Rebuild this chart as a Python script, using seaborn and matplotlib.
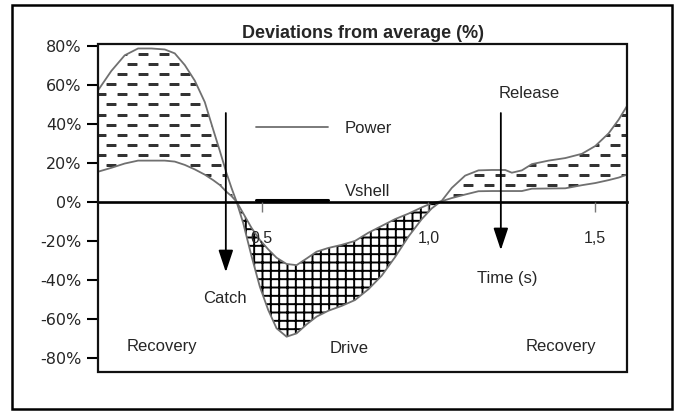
"""
Deviations from average (%) - Power and Vshell over one rowing stroke
"""
import numpy as np
import matplotlib
matplotlib.use('Agg')
import matplotlib.pyplot as plt
from matplotlib.lines import Line2D
from matplotlib.patches import Rectangle
from matplotlib.path import Path
import seaborn as sns

# Zeitachse (s) und Abweichungen (%)
t = [0.01, 0.05, 0.09, 0.13, 0.17, 0.21, 0.24, 0.27, 0.30, 0.33, 0.355, 0.375,
     0.395, 0.41, 0.425, 0.445, 0.47, 0.495, 0.52, 0.545, 0.575, 0.605, 0.635,
     0.665, 0.70, 0.74, 0.78, 0.82, 0.86, 0.90, 0.94, 0.98, 1.01, 1.04, 1.07,
     1.11, 1.15, 1.19, 1.23, 1.25, 1.28, 1.31, 1.36, 1.41, 1.46, 1.50, 1.54,
     1.57, 1.595]
power = [57, 67, 75, 78.5, 78.5, 78, 76, 70, 62, 51, 37, 26,
         14.6, 7, 0, -11, -28, -43.7, -55.6, -65, -69.3, -67.6, -63,
         -59, -56, -53.5, -50.5, -45, -38, -28.5, -18, -9, -3.5, 0.4, 7,
         13.3, 16, 16.2, 16.2, 14.8, 16, 19.2, 21, 22.3, 24.5, 28.5, 35,
         42, 49]
vshell = [15.3, 17.3, 19.5, 21, 21, 21, 20.5, 18.8, 16.5, 13.8, 11, 8.5,
          5, 2.8, 0, -6, -13.5, -19.7, -24.5, -28.8, -32, -32.6, -29.2,
          -25.7, -23.8, -22.2, -20.2, -16, -12.5, -9, -6.2, -3, -0.8, 0.2, 1.8,
          3.6, 5.3, 5.4, 5.4, 5.4, 5.4, 6.6, 6.7, 6.8, 8.4, 9.5, 11,
          12.3, 13.8]

x_ticks = [0.5, 1.0, 1.5]
x_tick_labels = ['0,5', '1,0', '1,5']
y_ticks = [-80, -60, -40, -20, 0, 20, 40, 60, 80]
y_tick_labels = [f'{v}%' for v in y_ticks]

# Beschriftungen im Diagramm: (Text, x, y)
annotations = [
    ('Release', 1.303, 55.6),
    ('Catch', 0.390, -49.5),
    ('Time (s)', 1.237, -39.2),
    ('Recovery', 0.202, -74.1),
    ('Drive', 0.761, -75.1),
    ('Recovery', 1.398, -74.1),
]
# Pfeile: (x, von, bis)
arrows = [(0.393, 45.4, -36.2), (1.217, 45.4, -24.9)]

sns.set_style('white')
plt.rcParams['font.family'] = ['Liberation Sans', 'DejaVu Sans']
plt.rcParams['hatch.linewidth'] = 1.4

fig = plt.figure(figsize=(6.82, 4.13), dpi=100)
ax = fig.add_axes([98 / 682, 1 - 372 / 413, 529 / 682, 328 / 413])
ax.set_axisbelow(False)

t_arr = np.array(t)
p_arr = np.array(power)
v_arr = np.array(vshell)

# Bereich Power > Vshell: gestrichelte Schraffur
upper = ax.fill_between(t_arr, p_arr, v_arr, where=p_arr >= v_arr,
                        interpolate=True, facecolor='white', linewidth=0, zorder=1)
# Bereich Power < Vshell: Gitter
ax.fill_between(t_arr, p_arr, v_arr, where=p_arr < v_arr, interpolate=True,
                facecolor='white', edgecolor='black', hatch='++', linewidth=0, zorder=1)

# versetzte Striche als Textur, auf die Fläche zugeschnitten
xs, ys = [], []
for k, yy in enumerate(np.arange(1 - 10 / 328, 0, -10.1 / 328)):
    off = 0 if k % 2 == 0 else 10.5 / 529
    for xx in np.arange(off + 0.005, 1.0, 21 / 529):
        xs.append(xx)
        ys.append(yy)
dashes = ax.scatter(xs, ys, marker='_', s=52, linewidths=1.9, color='#333333',
                    transform=ax.transAxes, zorder=1.5)
clip = Path.make_compound_path(*upper.get_paths())
dashes.set_clip_path(clip, ax.transData)

sns.lineplot(x=t, y=power, color='#707070', linewidth=1.3, ax=ax, zorder=2)
sns.lineplot(x=t, y=vshell, color='#707070', linewidth=1.3, ax=ax, zorder=2)

for x0, y0, y1 in arrows:
    ax.annotate('', xy=(x0, y1), xytext=(x0, y0),
                arrowprops=dict(arrowstyle='-|>,head_length=0.9,head_width=0.3',
                                color='black', lw=1.3, mutation_scale=15,
                                shrinkA=0, shrinkB=0), zorder=3)

for txt, x0, y0 in annotations:
    ax.text(x0, y0, txt, ha='center', va='center', fontsize=12, zorder=4)

# Legende (Vshell-Text etwas über seiner Linie, daher die Leerzeile)
handles = [Line2D([], [], color='#707070', lw=1.3),
           Line2D([], [], color='black', lw=2.2)]
ax.legend(handles, ['Power', 'Vshell\n'], loc='upper left',
          bbox_to_anchor=(0.299, 0.766), frameon=False, fontsize=12,
          handlelength=4.3, handletextpad=1.0, labelspacing=2.9,
          borderpad=0, borderaxespad=0)

ax.set_xlim(0.01, 1.595)
ax.set_ylim(-87.4, 80.8)
ax.set_xticks(x_ticks)
ax.set_xticklabels(x_tick_labels, family='DejaVu Sans')
ax.set_yticks(y_ticks)
ax.set_yticklabels(y_tick_labels, family='DejaVu Sans')
ax.tick_params(axis='x', direction='out', length=7, width=1, color='#777777',
               pad=14, labelsize=11.5, bottom=True)
ax.tick_params(axis='y', direction='out', length=8, width=1.5, color='black',
               pad=4, labelsize=11.5, left=True)

for side in ['top', 'right', 'left']:
    ax.spines[side].set_visible(False)
ax.spines['bottom'].set_position(('data', 0))
ax.spines['bottom'].set_linewidth(1.9)
ax.spines['bottom'].set_color('black')
ax.add_patch(Rectangle((0, 0), 1, 1, transform=ax.transAxes, fill=False,
                       edgecolor='#111111', linewidth=1.6, clip_on=False, zorder=5))

ax.set_title('Deviations from average (%)', fontsize=13, fontweight='bold', pad=4)

# äusserer Rahmen
fig.patches.append(Rectangle((12 / 682, 4 / 413), 660 / 682, 404 / 413,
                             transform=fig.transFigure, fill=False,
                             edgecolor='black', linewidth=1.8))

fig.savefig('out.png', dpi=100)
plt.close(fig)
